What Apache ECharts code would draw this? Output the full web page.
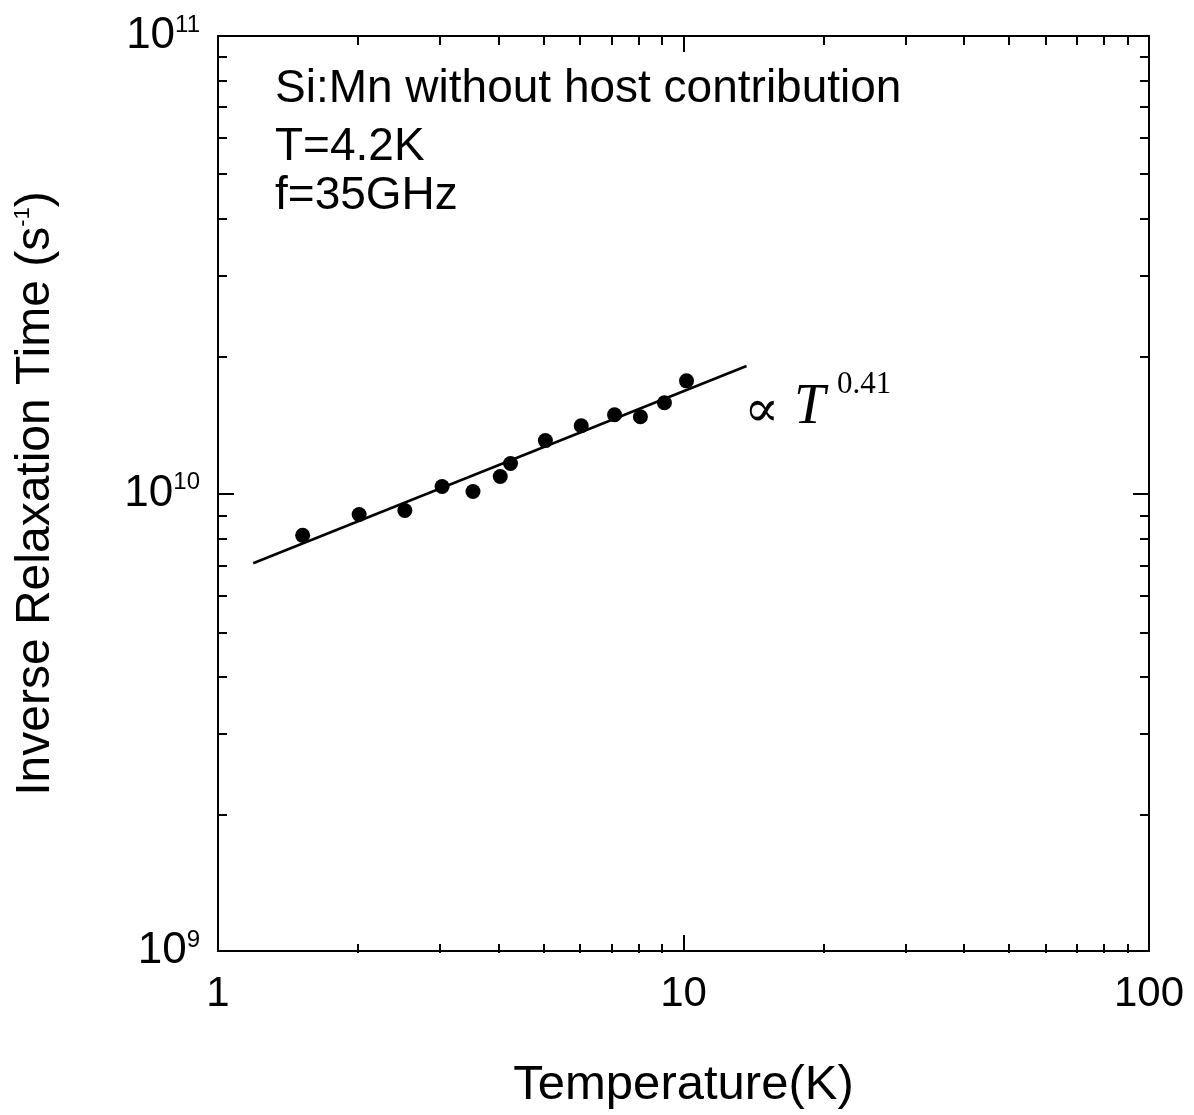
<!DOCTYPE html>
<html>
<head>
<meta charset="utf-8">
<script src="https://cdn.jsdelivr.net/npm/echarts@6/dist/echarts.min.js"></script>
<style>
html,body{margin:0;padding:0;background:#fff;}
#chart{width:1194px;height:1115px;}
</style>
</head>
<body>
<div id="chart"></div>
<script>
// ---- data ----
const temperatures = [1.52, 2.01, 2.52, 3.03, 3.53, 4.04, 4.25, 5.05, 6.03, 7.11, 8.08, 9.10, 10.15];
const inverseTimes = [8.10e9, 9.00e9, 9.18e9, 1.036e10, 1.01e10, 1.089e10, 1.163e10, 1.305e10, 1.406e10, 1.486e10, 1.472e10, 1.579e10, 1.763e10];
const fitT = [1.19, 13.66];
const fitV = [7.04e9, 1.90e10];
const xMinorTicks = [2,3,4,5,6,7,8,9,20,30,40,50,60,70,80,90];
const yMinorTicks = [2e9,3e9,4e9,5e9,6e9,7e9,8e9,9e9,2e10,3e10,4e10,5e10,6e10,7e10,8e10,9e10];
const xRange = [1, 100];
const yRange = [1e9, 1e11];

const FONT = '"Liberation Sans", Arial, sans-serif';
const SERIF = '"Liberation Serif", "DejaVu Serif", serif';
const black = '#000';

const gridRect = {left: 218, right: 45, top: 36, bottom: 162};

function majorX(pos, withLabel) {
  return {
    type: 'log', logBase: 10, min: xRange[0], max: xRange[1], gridIndex: 0, position: pos,
    axisLine: {show: true, onZero: false, lineStyle: {color: black, width: 2}},
    axisTick: {show: true, inside: true, length: 16, lineStyle: {color: black, width: 2}},
    axisLabel: {show: withLabel, fontSize: 42, color: black, fontFamily: FONT, margin: 22},
    splitLine: {show: false},
    name: withLabel ? 'Temperature(K)' : '',
    nameLocation: 'middle', nameGap: 110,
    nameTextStyle: {fontSize: 49, color: black, fontFamily: FONT}
  };
}
function minorX(pos) {
  return {
    type: 'log', logBase: 10, min: xRange[0], max: xRange[1], gridIndex: 1, position: pos,
    axisLine: {show: false, onZero: false},
    axisTick: {show: true, inside: true, length: 9, customValues: xMinorTicks, lineStyle: {color: black, width: 2}},
    axisLabel: {show: false},
    splitLine: {show: false}
  };
}
function majorY(pos, withLabel) {
  return {
    type: 'log', logBase: 10, min: yRange[0], max: yRange[1], gridIndex: 0, position: pos,
    axisLine: {show: true, onZero: false, lineStyle: {color: black, width: 2}},
    axisTick: {show: true, inside: true, length: 16, lineStyle: {color: black, width: 2}},
    axisLabel: {
      show: withLabel, margin: 18, fontSize: 44, color: black, fontFamily: FONT,
      formatter: function (v) { return '{b|10}{e|' + Math.round(Math.log10(v)) + '}'; },
      rich: {
        b: {fontSize: 44, color: black, fontFamily: FONT, lineHeight: 46},
        e: {fontSize: 24, color: black, fontFamily: FONT, verticalAlign: 'top', lineHeight: 46, padding: [0, 0, 20, 0]}
      }
    },
    splitLine: {show: false},
    name: withLabel ? 'Inverse Relaxation Time (s{e|-1})' : '',
    nameLocation: 'middle', nameGap: 158,
    nameTextStyle: {
      fontSize: 48, color: black, fontFamily: FONT,
      rich: {e: {fontSize: 22, color: black, fontFamily: FONT, verticalAlign: 'top', padding: [0, 0, 22, 0]}}
    }
  };
}
function minorY(pos) {
  return {
    type: 'log', logBase: 10, min: yRange[0], max: yRange[1], gridIndex: 1, position: pos,
    axisLine: {show: false, onZero: false},
    axisTick: {show: true, inside: true, length: 9, customValues: yMinorTicks, lineStyle: {color: black, width: 2}},
    axisLabel: {show: false},
    splitLine: {show: false}
  };
}

const chart = echarts.init(document.getElementById('chart'), null, {renderer: 'canvas'});
chart.setOption({
  backgroundColor: '#fff',
  animation: false,
  grid: [Object.assign({}, gridRect), Object.assign({}, gridRect)],
  xAxis: [majorX('bottom', true), majorX('top', false), minorX('bottom'), minorX('top')],
  yAxis: [majorY('left', true), majorY('right', false), minorY('left'), minorY('right')],
  graphic: [
    {type: 'text', left: 275, top: 66, style: {text: 'Si:Mn without host contribution', fontSize: 46, fontFamily: FONT, fill: black}},
    {type: 'text', left: 275, top: 124, style: {text: 'T=4.2K', fontSize: 46, fontFamily: FONT, fill: black}},
    {type: 'text', left: 275, top: 173, style: {text: 'f=35GHz', fontSize: 46, fontFamily: FONT, fill: black}},
    {type: 'text', left: 744, top: 386, style: {text: '\u221D', fontSize: 52, fontFamily: SERIF, fill: black}},
    {type: 'text', left: 794, top: 380, style: {text: 'T', fontSize: 56, fontStyle: 'italic', fontFamily: SERIF, fill: black}},
    {type: 'text', left: 837, top: 369, style: {text: '0.41', fontSize: 31, fontFamily: SERIF, fill: black}}
  ],
  series: [
    {
      type: 'line', xAxisIndex: 0, yAxisIndex: 0,
      data: fitT.map((t, i) => [t, fitV[i]]),
      showSymbol: false, symbol: 'none',
      lineStyle: {color: black, width: 2.5}, silent: true
    },
    {
      type: 'scatter', xAxisIndex: 0, yAxisIndex: 0,
      data: temperatures.map((t, i) => [t, inverseTimes[i]]),
      symbol: 'circle', symbolSize: 15,
      itemStyle: {color: black, opacity: 1}
    }
  ]
});
</script>
</body>
</html>
